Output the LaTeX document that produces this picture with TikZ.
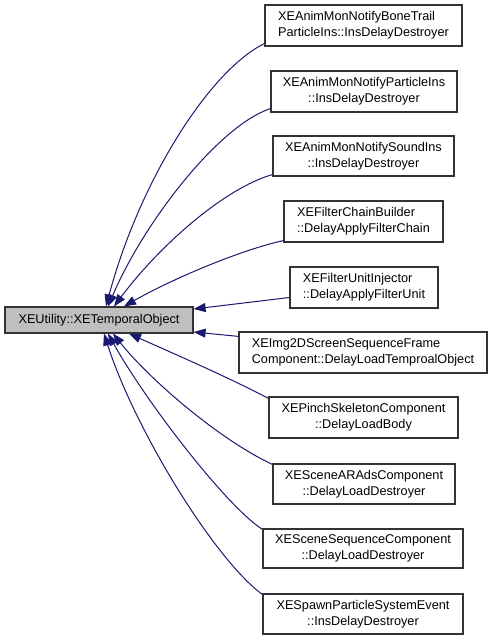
\documentclass[tikz,border=0pt]{standalone}
\usepackage{fontspec}
\setmainfont{Liberation Sans}
\usetikzlibrary{arrows.meta}
\definecolor{edgeblue}{HTML}{191970}
\definecolor{mainfill}{HTML}{BFBFBF}
\begin{document}
\begin{tikzpicture}[x=1pt,y=-1pt,
  box/.style={draw=black!80, line width=1.2pt, fill=white, inner sep=0pt,
    font=\fontsize{12.7pt}{16pt}\selectfont, minimum height=41pt},
  mainbox/.style={box, fill=mainfill, minimum height=26pt},
  edge/.style={draw=edgeblue, line width=1pt, -{Triangle[length=12pt,width=9pt]}}]
\useasboundingbox (0,0) rectangle (493,640);

\node[mainbox, minimum width=188pt] (main) at (99,320) {XEUtility::XETemporalObject};

\node[box, minimum width=197pt, align=left]   (b1)  at (363.5,25.5)  {XEAnimMonNotifyBoneTrail\\ParticleIns::InsDelayDestroyer};
\node[box, minimum width=186pt, align=center] (b2)  at (364,91.5)    {XEAnimMonNotifyParticleIns\\::InsDelayDestroyer};
\node[box, minimum width=181pt, minimum height=40pt, align=center] (b3)  at (363.5,156) {XEAnimMonNotifySoundIns\\::InsDelayDestroyer};
\node[box, minimum width=159pt, align=left]   (b4)  at (363.5,221.5) {XEFilterChainBuilder\\::DelayApplyFilterChain};
\node[box, minimum width=148pt, align=left]   (b5)  at (364,287.5)   {XEFilterUnitInjector\\::DelayApplyFilterUnit};
\node[box, minimum width=248pt, align=left]   (b6)  at (363,352.5)   {XEImg2DScreenSequenceFrame\\Component::DelayLoadTemproalObject};
\node[box, minimum width=189pt, align=center] (b7)  at (363.5,417.5) {XEPinchSkeletonComponent\\::DelayLoadBody};
\node[box, minimum width=182pt, minimum height=40pt, align=center] (b8)  at (364,484) {XESceneARAdsComponent\\::DelayLoadDestroyer};
\node[box, minimum width=200pt, minimum height=39pt, align=center] (b9)  at (363,548.5) {XESceneSequenceComponent\\::DelayLoadDestroyer};
\node[box, minimum width=200pt, minimum height=40pt, align=center] (b10) at (363,614) {XESpawnParticleSystemEvent\\::InsDelayDestroyer};

% edges from derived classes up to the base
\draw[edge] ([yshift=3pt]b1.south west) .. controls (210,70) and (140,180) .. ([xshift=7pt]main.north);
\draw[edge] ([yshift=4pt]b2.south west) .. controls (220,125) and (145,220) .. ([xshift=9pt]main.north);
\draw[edge] ([yshift=2pt]b3.south west) .. controls (225,188) and (160,245) .. ([xshift=15pt]main.north);
\draw[edge] ([yshift=2pt]b4.south west) .. controls (240,250) and (170,280) .. ([xshift=25pt]main.north);
\draw[edge] ([yshift=-10pt]b5.west) -- ([yshift=11pt]main.east);
\draw[edge] ([yshift=-5pt]b6.north west) -- ([yshift=-12pt]main.east);
\draw[edge] ([yshift=-2pt]b7.north west) .. controls (230,378) and (170,352) .. ([xshift=30pt]main.south);
\draw[edge] ([yshift=-1pt]b8.north west) .. controls (220,440) and (150,380) .. ([xshift=14pt]main.south);
\draw[edge] ([yshift=-1pt]b9.north west) .. controls (225,505) and (145,400) .. ([xshift=9pt]main.south);
\draw[edge] ([yshift=-1pt]b10.north west) .. controls (215,560) and (135,430) .. ([xshift=5pt]main.south);
\end{tikzpicture}
\end{document}
